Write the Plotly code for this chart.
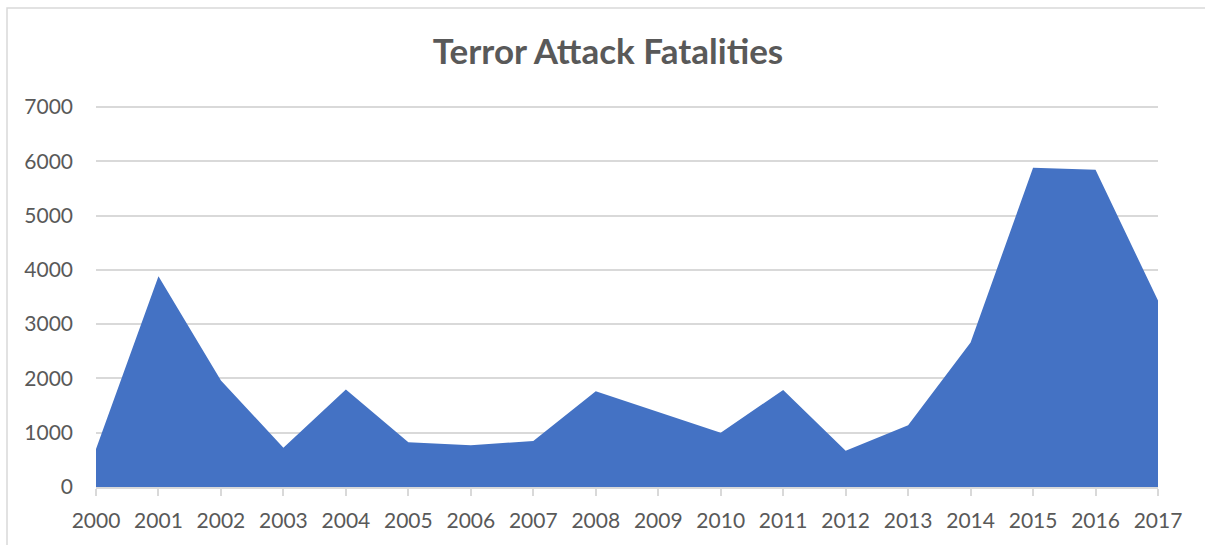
import plotly.graph_objects as go

# Yearly fatalities from terror attacks
years = list(range(2000, 2018))
fatalities = [700, 3880, 1960, 725, 1795, 823, 768, 848, 1764, 1382,
              1000, 1788, 670, 1137, 2660, 5880, 5843, 3434]
y_ticks = [0, 1000, 2000, 3000, 4000, 5000, 6000, 7000]

TEXT = "#595959"
GRID = "#d9d9d9"
FILL = "#4472C4"
FONT = "Lato"

# Leave a little headroom above 7000 so its gridline is drawn
Y_TOP = 7000 * 384 / 380

fig = go.Figure(
    go.Scatter(
        x=years,
        y=fatalities,
        mode="none",
        fill="tozeroy",
        fillcolor=FILL,
        hoverinfo="x+y",
    )
)

fig.update_layout(
    width=1205,
    height=545,
    margin=dict(l=96, r=47, t=103, b=58),
    paper_bgcolor="white",
    plot_bgcolor="white",
    showlegend=False,
    font=dict(family=FONT, color=TEXT, size=21),
    title=dict(
        text="<b>Terror Attack Fatalities</b>",
        x=0.5046,
        xanchor="center",
        y=0.905,
        yanchor="middle",
        font=dict(family=FONT, size=35, color=TEXT),
    ),
    shapes=[
        dict(
            type="rect",
            xref="paper",
            yref="paper",
            x0=-0.0838,
            x1=1.2,
            y0=-0.3,
            y1=(487 - 8) / 384,
            line=dict(color=GRID, width=1.5),
            fillcolor="rgba(0,0,0,0)",
            layer="below",
        )
    ],
)

fig.update_xaxes(
    range=[2000, 2017],
    tickmode="array",
    tickvals=years,
    ticktext=[str(y) for y in years],
    showgrid=False,
    showline=True,
    linecolor=GRID,
    linewidth=2,
    ticks="outside",
    ticklen=7,
    tickcolor=GRID,
    tickwidth=2,
    ticklabelstandoff=7,
    tickfont=dict(family=FONT, size=21, color=TEXT),
    zeroline=False,
    fixedrange=True,
)

fig.update_yaxes(
    range=[0, Y_TOP],
    tickmode="array",
    tickvals=y_ticks,
    ticktext=[str(v) for v in y_ticks],
    showgrid=True,
    gridcolor=GRID,
    gridwidth=1.5,
    showline=False,
    zeroline=False,
    ticks="",
    ticklabelstandoff=22,
    tickfont=dict(family=FONT, size=21, color=TEXT),
    fixedrange=True,
)

fig.write_html("out.html")
